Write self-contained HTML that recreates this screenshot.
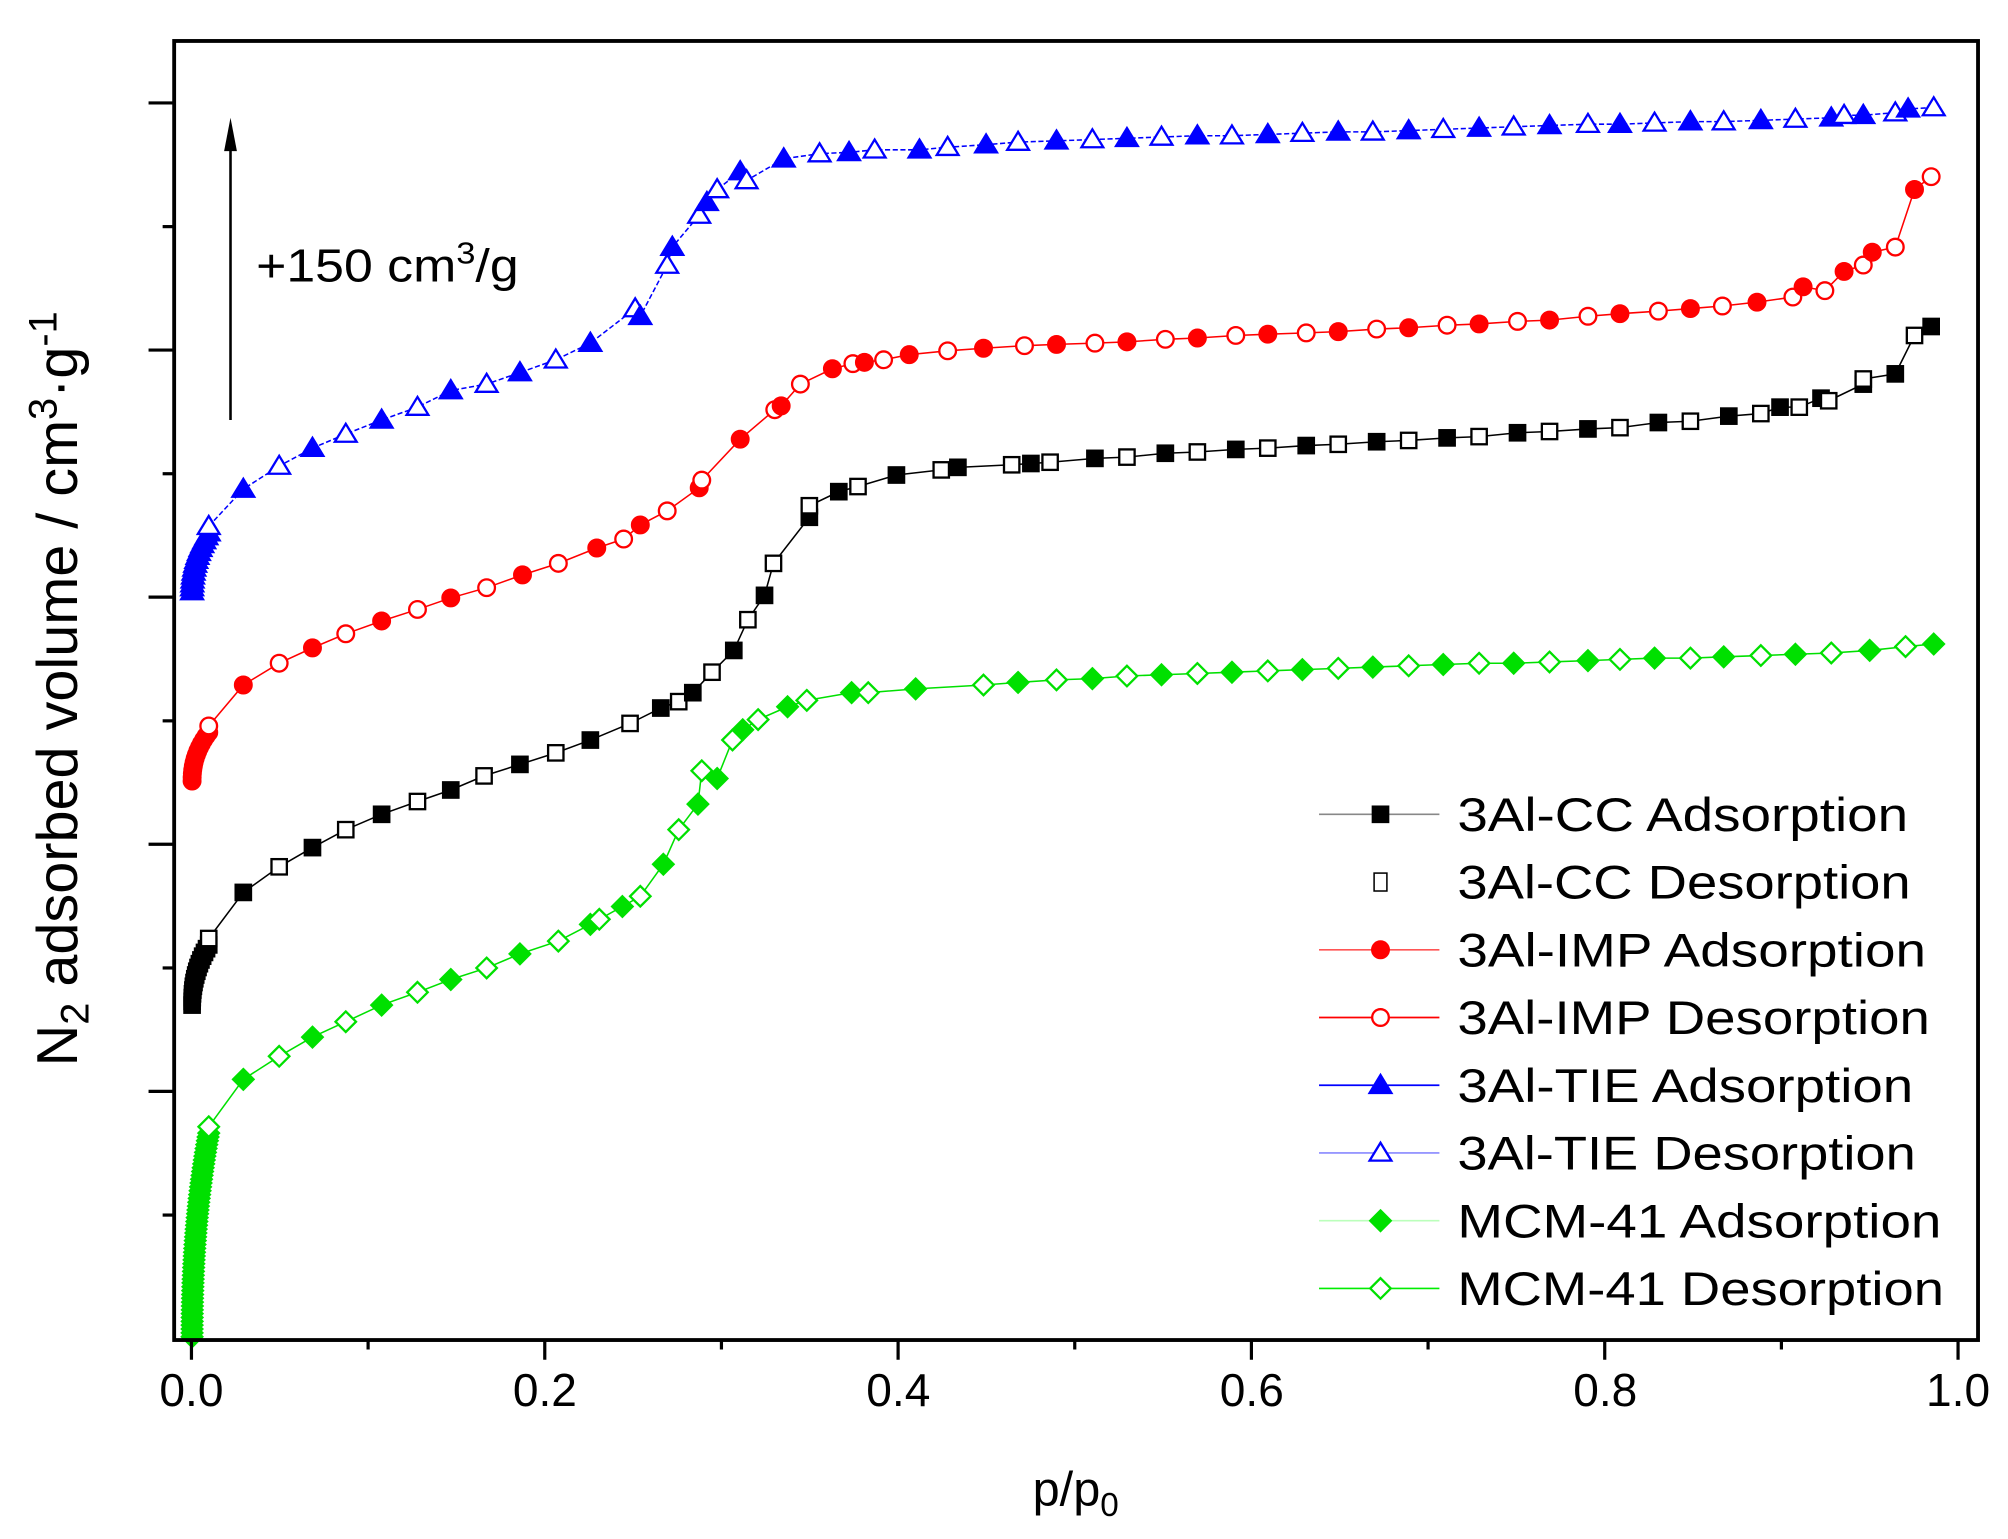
<!DOCTYPE html>
<html><head><meta charset="utf-8"><style>html,body{margin:0;padding:0;background:#fff}svg{display:block}</style></head>
<body>
<svg id="s" width="2008" height="1539" viewBox="0 0 1568 1202" preserveAspectRatio="none" xmlns="http://www.w3.org/2000/svg" font-family="Liberation Sans, Arial, sans-serif">
<rect width="1568" height="1202" fill="#fff"/>
<g id="plot"></g>
<rect x="136" y="32" width="1408.6" height="1014.6" fill="none" stroke="#000" stroke-width="3"/>
<g stroke="#000" stroke-width="2.5">
<line x1="116" y1="80.4" x2="136" y2="80.4"/><line x1="116" y1="273.4" x2="136" y2="273.4"/><line x1="116" y1="466.4" x2="136" y2="466.4"/><line x1="116" y1="659.4" x2="136" y2="659.4"/><line x1="116" y1="852.4" x2="136" y2="852.4"/>
<line x1="127" y1="177" x2="136" y2="177"/><line x1="127" y1="370" x2="136" y2="370"/><line x1="127" y1="563" x2="136" y2="563"/><line x1="127" y1="756" x2="136" y2="756"/><line x1="127" y1="949" x2="136" y2="949"/>
</g>
<g stroke="#000" stroke-width="2.5" id="xt"></g>
<g font-size="36" text-anchor="middle" fill="#000">
<text x="149.5" y="1098">0.0</text><text x="425.5" y="1098">0.2</text><text x="701.5" y="1098">0.4</text><text x="977.5" y="1098">0.6</text><text x="1253.5" y="1098">0.8</text><text x="1529" y="1098">1.0</text>
</g>
<text x="840" y="1176" font-size="38" text-anchor="middle">p/p<tspan font-size="26" dy="8">0</tspan></text>
<text transform="translate(60,538) rotate(-90)" font-size="45" text-anchor="middle">N<tspan font-size="31" dy="9">2</tspan><tspan dy="-9"> adsorbed volume / cm</tspan><tspan font-size="31" dy="-16">3</tspan><tspan dy="16">·g</tspan><tspan font-size="31" dy="-16">-1</tspan></text>
<line x1="180" y1="328" x2="180" y2="108" stroke="#000" stroke-width="2"/>
<polygon points="180,92 175,118 185,118" fill="#000"/>
<text x="200" y="220" font-size="36" textLength="205" lengthAdjust="spacingAndGlyphs">+150 cm<tspan font-size="24" dy="-14">3</tspan><tspan dy="14">/g</tspan></text>
<g id="leg"></g>
</svg>
<script>
var NS="http://www.w3.org/2000/svg";
function el(p,t,a){var e=document.createElementNS(NS,t);for(var k in a)e.setAttribute(k,a[k]);p.appendChild(e);return e;}
var xt=document.getElementById('xt');
for(var i=0;i<=10;i++){var x=149.5+i*137.95;el(xt,'line',{x1:x,y1:1046.6,x2:x,y2:i%2?1054:1062});}
var plot=document.getElementById('plot');
function marker(g,type,x,y,col,fill){
 var f=fill?col:'#fff';
 if(type=='sq')el(g,'rect',{x:x-6,y:y-6,width:12,height:12,fill:f,stroke:col,'stroke-width':1.8});
 else if(type=='ci')el(g,'circle',{cx:x,cy:y,r:6.5,fill:f,stroke:col,'stroke-width':1.8});
 else if(type=='tr')el(g,'polygon',{points:(x)+','+(y-8)+' '+(x-8.5)+','+(y+6)+' '+(x+8.5)+','+(y+6),fill:f,stroke:col,'stroke-width':1.8});
 else el(g,'polygon',{points:x+','+(y-8)+' '+(x+8)+','+y+' '+x+','+(y+8)+' '+(x-8)+','+y,fill:f,stroke:col,'stroke-width':1.8});
}
function series(pts,col,type,startY,blobTop,dash){
 var g=el(plot,'g',{});
 var d=pts.map(function(p){return p.join(',')}).join(' ');
 var a={points:d,fill:'none',stroke:col,'stroke-width':1.2};if(dash)a['stroke-dasharray']=dash;
 el(g,'polyline',a);
 var n=Math.round((startY-blobTop)/3);
 for(var i=0;i<=n;i++){var t=i/n;var y=startY-(startY-blobTop)*t;var x=150+Math.pow(t,2.2)*(pts[0][0]-150);marker(g,type,x,y,col,true);}
 for(var i=0;i<pts.length;i++){marker(g,type,pts[i][0],pts[i][1],col,i%2==1);}
}
var black=[[163,733],[190,697],[218,677],[244,662],[270,648],[298,636],[326,626],[352,617],[378,606],[406,597],[434,588],[461,578],[492,565],[516,553],[530,548],[541,541],[556,525],[573,508],[584,484],[597,465],[604,440],[632,404],[632,395],[655,384],[670,380],[700,371],[735,367],[748,365],[790,363],[805,362],[820,361],[855,358],[880,357],[910,354],[935,353],[965,351],[990,350],[1020,348],[1045,347],[1075,345],[1100,344],[1130,342],[1155,341],[1185,338],[1210,337],[1240,335],[1265,334],[1295,330],[1320,329],[1350,325],[1375,323],[1390,318],[1405,318],[1422,311],[1428,313],[1455,300],[1455,296],[1480,292],[1495,262],[1508,255]];
var red=[[163,567],[190,535],[218,518],[244,506],[270,495],[298,485],[326,476],[352,467],[380,459],[408,449],[436,440],[466,428],[487,421],[500,410],[521,399],[546,381],[548,375],[578,343],[605,320],[610,317],[625,300],[650,288],[666,284],[675,283],[690,281],[710,277],[740,274],[768,272],[800,270],[825,269],[855,268],[880,267],[910,265],[935,264],[965,262],[990,261],[1020,260],[1045,259],[1075,257],[1100,256],[1130,254],[1155,253],[1185,251],[1210,250],[1240,247],[1265,245],[1295,243],[1320,241],[1345,239],[1372,236],[1400,232],[1408,224],[1425,227],[1440,212],[1455,207],[1462,197],[1480,193],[1495,148],[1508,138]];
var blue=[[163,411],[190,382],[218,364],[244,350],[270,339],[298,328],[326,318],[352,305],[380,300],[406,291],[434,281],[461,268],[496,241],[500,247],[521,207],[525,193],[546,168],[552,158],[560,148],[578,134],[583,141],[612,124],[640,120],[663,119],[683,117],[718,117],[740,115],[770,113],[795,111],[825,110],[853,109],[880,108],[907,107],[935,106],[962,106],[990,105],[1017,104],[1045,103],[1072,103],[1100,102],[1127,101],[1155,100],[1182,99],[1210,98],[1240,97],[1265,97],[1292,96],[1320,95],[1346,95],[1375,94],[1402,93],[1430,92],[1440,90],[1455,90],[1480,88],[1490,85],[1510,84]];
var green=[[163,880],[190,843],[218,825],[244,810],[270,798],[298,785],[326,775],[352,765],[380,756],[406,745],[436,735],[461,722],[468,718],[486,708],[500,700],[518,675],[530,648],[545,628],[548,602],[560,608],[572,578],[580,570],[592,562],[615,552],[630,547],[665,541],[678,541],[715,538],[768,535],[795,533],[825,531],[853,530],[880,528],[907,527],[935,526],[962,525],[990,524],[1017,523],[1045,522],[1072,521],[1100,520],[1127,519],[1155,518],[1182,518],[1210,517],[1240,516],[1265,515],[1292,514],[1320,514],[1346,513],[1375,512],[1402,511],[1430,510],[1460,508],[1488,505],[1510,503]];
series(green,'#00e000','di',1044,885,null);
series(black,'#000','sq',785,738,null);
series(red,'#ff0000','ci',610,572,null);
series(blue,'#0000ff','tr',462,416,'4,2');
var leg=document.getElementById('leg');
var L=[['3Al-CC Adsorption','#000','sq',1,'#888'],['3Al-CC Desorption','#000','sq',0,null],['3Al-IMP Adsorption','#f00','ci',1,'#f55'],['3Al-IMP Desorption','#f00','ci',0,'#f00'],['3Al-TIE Adsorption','#00f','tr',1,'#00f'],['3Al-TIE Desorption','#00f','tr',0,'#88f'],['MCM-41 Adsorption','#00e000','di',1,'#bfb'],['MCM-41 Desorption','#00e000','di',0,'#0e0']];
var W=[352,354,366,369,356,358,378,380];
for(var i=0;i<L.length;i++){var y=636+i*52.9;var r=L[i];
 if(r[4])el(leg,'line',{x1:1030,y1:y,x2:1124,y2:y,stroke:r[4],'stroke-width':1.3});
 if(r[2]=='sq'&&!r[3])el(leg,'rect',{x:1073,y:y-7,width:10,height:14,fill:'#fff',stroke:'#000','stroke-width':1.2});
 else marker(leg,r[2],1078,y,r[1],r[3]);
 var t=el(leg,'text',{x:1138,y:y+13,'font-size':37,textLength:W[i],lengthAdjust:'spacingAndGlyphs'});t.textContent=r[0];}
</script>
</body></html>
